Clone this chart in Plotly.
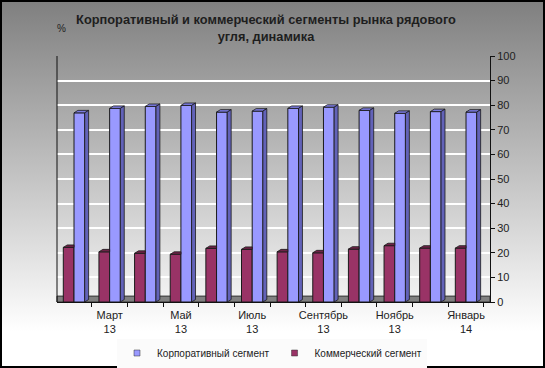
import base64
import plotly.graph_objects as go

# ---- data ----
months = ["Февраль 13", "Март 13", "Апрель 13", "Май 13", "Июнь 13", "Июль 13",
          "Август 13", "Сентябрь 13", "Октябрь 13", "Ноябрь 13", "Декабрь 13", "Январь 14"]
corporate = [76.9, 78.7, 79.5, 79.9, 77.2, 77.6, 78.7, 79.2, 77.9, 76.7, 77.4, 77.2]
commercial = [22.2, 20.4, 19.8, 19.4, 21.8, 21.4, 20.4, 20.0, 21.5, 22.9, 21.9, 21.9]
label_idx = [1, 3, 5, 7, 9, 11]
tick_labels = ["Март<br>13", "Май<br>13", "Июль<br>13", "Сентябрь<br>13", "Ноябрь<br>13", "Январь<br>14"]
series_names = ["Корпоративный сегмент", "Коммерческий сегмент"]
title_text = "Корпоративный и коммерческий сегменты рынка рядового<br>угля, динамика"

# ---- style ----
W, H = 545, 368
ML, MR, MT, MB = 57, 55, 56, 66
PW, PH = W - ML - MR, H - MT - MB
BLUE, BLUE_TOP, BLUE_SIDE = "#9999ff", "#7b7be0", "#6262b8"
MAR, MAR_TOP = "#993366", "#6e2248"
BW = 0.3
DX, DY = 0.11, 1.0
xs = list(range(len(months)))

fig = go.Figure()

# front faces (bars)
fig.add_trace(go.Bar(x=xs, y=commercial, name=series_names[1], width=BW, offset=-BW,
                     showlegend=False,
                     marker=dict(color=MAR, line=dict(color="#1a1a1a", width=1))))
fig.add_trace(go.Bar(x=xs, y=corporate, name=series_names[0], width=BW, offset=0,
                     showlegend=False,
                     marker=dict(color=BLUE, line=dict(color="#1a1a1a", width=1))))


def faces(vals, off, clip_right):
    tx, ty, sx, sy = [], [], [], []
    for x, v in zip(xs, vals):
        x0, x1 = x + off, x + off + BW
        if clip_right:
            tx += [x0, x1, x1, x0 + DX, x0, None]
        else:
            tx += [x0, x1, x1 + DX, x0 + DX, x0, None]
        ty += [v, v, v + DY, v + DY, v, None]
        sx += [x1, x1, x1 + DX, x1 + DX, x1, None]
        sy += [0, v, v + DY, DY, 0, None]
    return tx, ty, sx, sy


mtx, mty, _, _ = faces(commercial, -BW, True)
btx, bty, bsx, bsy = faces(corporate, 0, False)
for fx, fy, col in [(mtx, mty, MAR_TOP), (btx, bty, BLUE_TOP), (bsx, bsy, BLUE_SIDE)]:
    fig.add_trace(go.Scatter(x=fx, y=fy, mode="lines", fill="toself", fillcolor=col,
                             line=dict(color="#1a1a1a", width=0.8), showlegend=False,
                             hoverinfo="skip"))

# legend entries (small squares)
for nm, col in [(series_names[0], BLUE), (series_names[1], MAR)]:
    fig.add_trace(go.Scatter(x=[None], y=[None], mode="markers", name=nm,
                             marker=dict(symbol="square", size=6, color=col,
                                         line=dict(color="#333333", width=0.5))))

# axis for boundary tick marks
fig.add_trace(go.Scatter(x=[None], y=[None], xaxis="x2", showlegend=False, hoverinfo="skip"))

# gradient background
svg = (f'<svg xmlns="http://www.w3.org/2000/svg" width="{W}" height="{H}" preserveAspectRatio="none">'
       '<defs><linearGradient id="g" x1="0" y1="0" x2="0" y2="1">'
       '<stop offset="0" stop-color="#7f7f7f"/><stop offset="0.9" stop-color="#ffffff"/>'
       '<stop offset="1" stop-color="#ffffff"/></linearGradient></defs>'
       f'<rect width="{W}" height="{H}" fill="url(#g)"/></svg>')
uri = "data:image/svg+xml;base64," + base64.b64encode(svg.encode()).decode()

xr = [-0.477, 11.673]
fig.update_layout(
    width=W, height=H,
    margin=dict(l=ML, r=MR, t=MT, b=MB, autoexpand=False),
    paper_bgcolor="#c0c0c0", plot_bgcolor="rgba(0,0,0,0)",
    font=dict(family="Liberation Sans, Arial, sans-serif", color="#222222", size=11),
    barmode="overlay",
    title=dict(text=title_text, x=(266 - ML) / PW, xanchor="center", xref="paper",
               y=1 - 24 / H, yanchor="top",
               font=dict(size=12.8, color="#1e1e1e", family="Liberation Sans, Arial, sans-serif",
                         weight="bold")),
    xaxis=dict(range=xr, tickvals=label_idx, ticktext=tick_labels, showgrid=False, zeroline=False,
               showline=False, ticks="", tickfont=dict(size=11), automargin=False,
               ticklabelstandoff=5),
    xaxis2=dict(range=xr, overlaying="x", anchor="y", side="bottom",
                tickvals=[i - 0.5 for i in range(len(months) + 1)], showticklabels=False,
                ticks="outside", ticklen=4, tickcolor="#111111", showgrid=False, zeroline=False,
                showline=True, linecolor="#111111", linewidth=1, automargin=False),
    yaxis=dict(range=[0, 100], dtick=10, side="right", showgrid=True, gridcolor="#ffffff",
               gridwidth=2, zeroline=False, showline=True, linecolor="#111111", linewidth=1,
               ticks="outside", ticklen=4, tickcolor="#111111", tickfont=dict(size=11),
               automargin=False),
    legend=dict(orientation="h", x=(272 - ML) / PW, xanchor="center", y=(302 - 353) / PH,
                yanchor="middle", bgcolor="#fbfbfb", font=dict(size=10), itemwidth=30),
    images=[dict(source=uri, xref="paper", yref="paper", x=-ML / PW, y=1 + MT / PH,
                 sizex=W / PW, sizey=H / PH, xanchor="left", yanchor="top",
                 sizing="stretch", layer="below")],
    shapes=[
        dict(type="rect", xref="paper", yref="y", x0=0, x1=1, y0=0, y1=2.4,
             fillcolor="#808080", line=dict(color="#333333", width=1), layer="between"),
        dict(type="line", xref="paper", yref="y", x0=0, x1=0, y0=0, y1=100,
             line=dict(color="#111111", width=1), layer="above"),
        dict(type="rect", xref="paper", yref="paper", x0=(-ML + 1) / PW, x1=(W - ML - 1) / PW,
             y0=(-MB + 1) / PH, y1=1 + (MT - 1) / PH, line=dict(color="#000000", width=2),
             fillcolor="rgba(0,0,0,0)", layer="above"),
    ],
    annotations=[dict(text="%", xref="paper", yref="paper", x=-0.005, y=1 + 28 / PH,
                      showarrow=False, xanchor="left", yanchor="middle",
                      font=dict(size=10, color="#1e1e1e"))],
)

fig.write_html("out.html", config={"displayModeBar": False},
               post_script="document.body.style.margin='0';document.body.style.overflow='hidden';")
